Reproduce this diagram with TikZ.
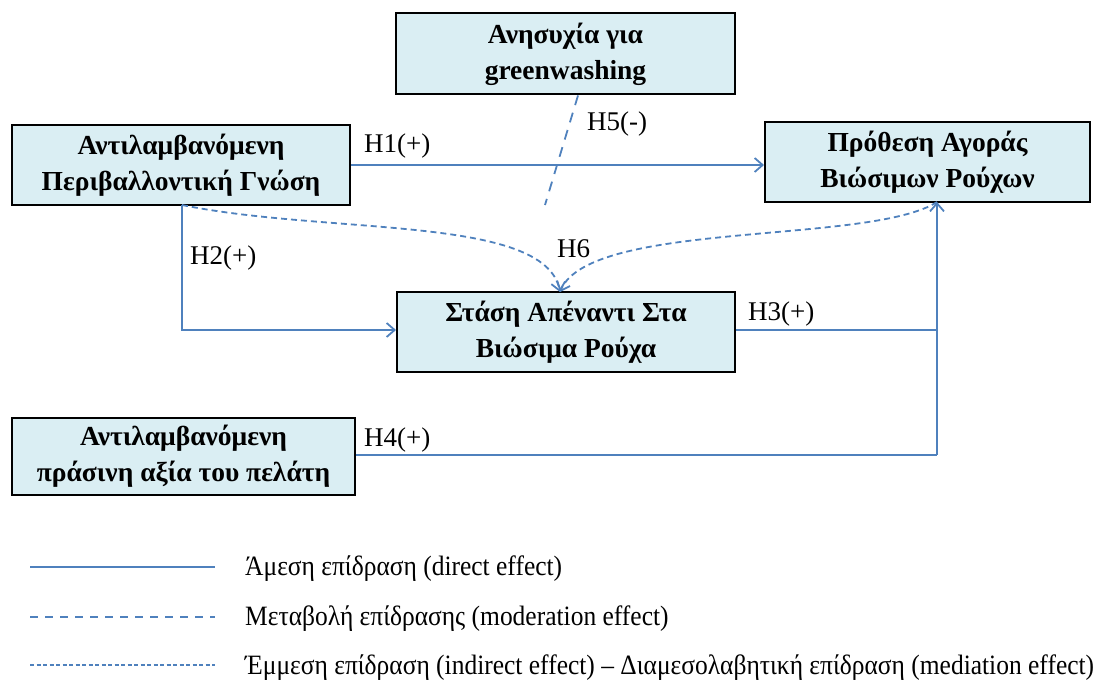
\documentclass[tikz,border=0pt]{standalone}
\usepackage{fontspec}
\setmainfont{Liberation Serif}
\newfontfamily\legendfont[FakeStretch=0.91]{Liberation Serif}
\usetikzlibrary{arrows.meta}
\definecolor{boxfill}{HTML}{DAEEF3}
\definecolor{lineblue}{HTML}{4F81BD}
\tikzset{
  cbox/.style={draw=black, line width=2pt, fill=boxfill, align=center, font=\fontsize{27.5}{36}\selectfont\bfseries, inner sep=0pt},
  direct/.style={draw=lineblue, line width=1.8pt},
  moder/.style={draw=lineblue, line width=1.8pt, dash pattern=on 10pt off 8pt},
  indirect/.style={draw=lineblue, line width=1.8pt, dash pattern=on 6pt off 4pt},
  tip/.style={-{Straight Barb[length=8pt,width=14pt,line width=1.8pt]}},
  hlab/.style={font=\fontsize{27}{30}\selectfont, anchor=base west, inner sep=0pt},
  leg/.style={font=\legendfont\fontsize{28}{30}\selectfont, anchor=base west, inner sep=0pt}
}
\begin{document}
\begin{tikzpicture}[x=1pt,y=-1pt]
\useasboundingbox (0,0) rectangle (1102,684);
% boxes
\node[cbox, minimum width=339pt, minimum height=81pt] (gw) at (565.5,54) {Ανησυχία για\\greenwashing};
\node[cbox, minimum width=338pt, minimum height=80pt] (pk) at (181,165) {Αντιλαμβανόμενη\\Περιβαλλοντική Γνώση};
\node[cbox, minimum width=325pt, minimum height=80pt] (pi) at (927.5,162) {Πρόθεση Αγοράς\\Βιώσιμων Ρούχων};
\node[cbox, minimum width=338pt, minimum height=80pt] (at) at (566,332) {Στάση Απέναντι Στα\\Βιώσιμα Ρούχα};
\node[cbox, minimum width=343pt, minimum height=77pt] (gv) at (183.5,456.5) {Αντιλαμβανόμενη\\πράσινη αξία του πελάτη};
% coordinates
\coordinate (pkb) at (182,205);
\coordinate (pib) at (937,202);
\coordinate (att) at (560,292);
\coordinate (j3) at (937,330);
\coordinate (j4) at (937,455);
\coordinate (h5e) at (545,205);
% H1
\draw[direct, tip] (pk.east |- 0,165) -- (pi.west |- 0,165);
\node[hlab] (h1) at (364,153) {H1(+)};
% H2
\draw[direct, tip] (pkb) -- (182,330) -- (at.west |- 0,330);
\node[hlab] (h2) at (190,265) {H2(+)};
% H3
\draw[direct] (at.east |- 0,330) -- (j3);
\draw[direct, tip] (j4) -- (pib);
\node[hlab] (h3) at (748,320) {H3(+)};
% H4
\draw[direct] (gv.east |- 0,455) -- (j4);
\node[hlab] (h4) at (364,446) {H4(+)};
% H5
\draw[moder] (gw.south -| 578,0) -- (h5e);
\node[hlab] (h5) at (587,131) {H5(-)};
% H6
\draw[indirect, tip] (pkb) .. controls (330,235) and (545,215) .. (att);
\draw[indirect, tip] (pib) .. controls (870,245) and (590,220) .. (att);
\node[hlab] (h6) at (557,258) {H6};
% legend
\coordinate (l1a) at (30,567); \coordinate (l1b) at (215,567);
\coordinate (l2a) at (30,617); \coordinate (l2b) at (215,617);
\coordinate (l3a) at (30,665); \coordinate (l3b) at (215,665);
\draw[direct] (l1a) -- (l1b);
\draw[direct, dash pattern=on 8pt off 7pt] (l2a) -- (l2b);
\draw[direct, dash pattern=on 4pt off 2.5pt] (l3a) -- (l3b);
\node[leg] (t1) at (245,575) {Άμεση επίδραση (direct effect)};
\node[leg] (t2) at (245,625) {Μεταβολή επίδρασης (moderation effect)};
\node[leg] (t3) at (245,674) {Έμμεση επίδραση (indirect effect) – Διαμεσολαβητική επίδραση (mediation effect)};
\end{tikzpicture}
\end{document}
